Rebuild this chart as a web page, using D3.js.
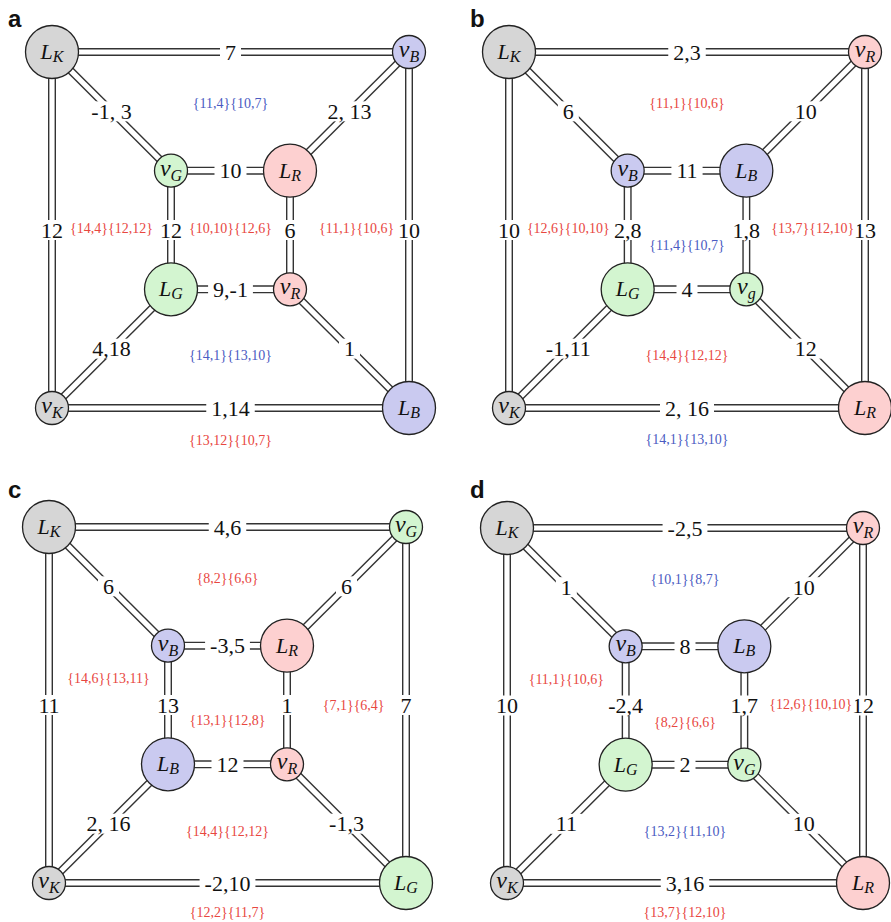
<!DOCTYPE html>
<html>
<head>
<meta charset="utf-8">
<script src="https://cdn.jsdelivr.net/npm/d3@7"></script>
<style>
  body { margin: 0; background: #fff; }
  svg { display: block; }
</style>
</head>
<body>
<svg id="chart" width="891" height="922"></svg>
<script>
// Panel letters
const panelNames = ["a", "b", "c", "d"];

// Vertex names, in order: outer TL, outer TR, inner TL, inner TR,
// inner BL, inner BR, outer BL, outer BR
const nodesA = ["L_K", "v_B", "v_G", "L_R", "L_G", "v_R", "v_K", "L_B"];
const nodesB = ["L_K", "v_R", "v_B", "L_B", "L_G", "v_g", "v_K", "L_R"];
const nodesC = ["L_K", "v_G", "v_B", "L_R", "L_B", "v_R", "v_K", "L_G"];
const nodesD = ["L_K", "v_R", "v_B", "L_B", "L_G", "v_G", "v_K", "L_R"];

// Edge weights, in order: top, TL spoke, TR spoke, inner top, left, right,
// inner left, inner right, inner bottom, BL spoke, BR spoke, bottom
const edgesA = ["7", "-1, 3", "2, 13", "10", "12", "10", "12", "6", "9,-1", "4,18", "1", "1,14"];
const edgesB = ["2,3", "6", "10", "11", "10", "13", "2,8", "1,8", "4", "-1,11", "12", "2, 16"];
const edgesC = ["4,6", "6", "6", "-3,5", "11", "7", "13", "1", "12", "2, 16", "-1,3", "-2,10"];
const edgesD = ["-2,5", "1", "10", "8", "10", "12", "-2,4", "1,7", "2", "11", "10", "3,16"];

// Face annotations: top, left, centre, right, bottom, outer
const facesA = ["{11,4}{10,7}", "{14,4}{12,12}", "{10,10}{12,6}", "{11,1}{10,6}", "{14,1}{13,10}", "{13,12}{10,7}"];
const facesB = ["{11,1}{10,6}", "{12,6}{10,10}", "{11,4}{10,7}", "{13,7}{12,10}", "{14,4}{12,12}", "{14,1}{13,10}"];
const facesC = ["{8,2}{6,6}", "{14,6}{13,11}", "{13,1}{12,8}", "{7,1}{6,4}", "{14,4}{12,12}", "{12,2}{11,7}"];
const facesD = ["{10,1}{8,7}", "{11,1}{10,6}", "{8,2}{6,6}", "{12,6}{10,10}", "{13,2}{11,10}", "{13,7}{12,10}"];

// Face annotation colour class (B = blue, R = red)
const faceClassA = ["B", "R", "R", "R", "B", "R"];
const faceClassB = ["R", "R", "B", "R", "R", "B"];
const faceClassC = ["R", "R", "R", "R", "R", "R"];
const faceClassD = ["B", "R", "R", "R", "B", "R"];

const panelData = [
  { nodes: nodesA, edges: edgesA, faces: facesA, faceClass: faceClassA },
  { nodes: nodesB, edges: edgesB, faces: facesB, faceClass: faceClassB },
  { nodes: nodesC, edges: edgesC, faces: facesC, faceClass: faceClassC },
  { nodes: nodesD, edges: edgesD, faces: facesD, faceClass: faceClassD }
];

// ---- layout ----
// cube graph drawn on a 3x3 grid
const gridPos = [[0, 0], [3, 0], [1, 1], [2, 1], [1, 2], [2, 2], [0, 3], [3, 3]];
const edgePairs = [[0, 1], [0, 2], [1, 3], [2, 3], [0, 6], [1, 7], [2, 4], [3, 5], [4, 5], [6, 4], [5, 7], [6, 7]];
const panelBoxes = [
  { x0: 52, x1: 409, y0: 52, y1: 408, lx: 8, ly: 27 },
  { x0: 509, x1: 865, y0: 52, y1: 408, lx: 470, ly: 27 },
  { x0: 49, x1: 406, y0: 527, y1: 883, lx: 8, ly: 498 },
  { x0: 507, x1: 863, y0: 528, y1: 883, lx: 470, ly: 498 }
];
// face annotation anchors in grid units, per panel
const faceAnchors = [
  [[1.5, 0.43], [0.5, 1.48], [1.5, 1.48], [2.56, 1.48], [1.5, 2.55], [1.5, 3.27]],
  [[1.5, 0.43], [0.5, 1.48], [1.5, 1.63], [2.56, 1.48], [1.5, 2.55], [1.5, 3.26]],
  [[1.5, 0.43], [0.5, 1.27], [1.5, 1.63], [2.56, 1.50], [1.5, 2.56], [1.5, 3.245]],
  [[1.5, 0.43], [0.5, 1.28], [1.5, 1.64], [2.56, 1.49], [1.5, 2.56], [1.5, 3.245]]
];

const nodeFill = { K: "#d6d6d6", B: "#cacaf0", G: "#d3f5d0", g: "#d3f5d0", R: "#fdd0d0" };
const faceColor = { R: "#e8473f", B: "#4b5bc2" };
const serif = "'Liberation Serif', 'Times New Roman', serif";

const svg = d3.select("#chart");

panelData.forEach((pd, i) => {
  const box = panelBoxes[i];
  const x = d3.scaleLinear().domain([0, 3]).range([box.x0, box.x1]);
  const y = d3.scaleLinear().domain([0, 3]).range([box.y0, box.y1]);
  const g = svg.append("g").attr("class", "panel-" + panelNames[i]);

  const pts = gridPos.map(([u, v]) => [x(u), y(v)]);
  const edges = edgePairs.map(([s, t], k) => ({ s: pts[s], t: pts[t], label: pd.edges[k] }));

  // double-stroke edges: dark casing with white core
  g.append("g").selectAll("line").data(edges).join("line")
    .attr("x1", d => d.s[0]).attr("y1", d => d.s[1])
    .attr("x2", d => d.t[0]).attr("y2", d => d.t[1])
    .attr("stroke", "#333").attr("stroke-width", 8);
  g.append("g").selectAll("line").data(edges).join("line")
    .attr("x1", d => d.s[0]).attr("y1", d => d.s[1])
    .attr("x2", d => d.t[0]).attr("y2", d => d.t[1])
    .attr("stroke", "#fff").attr("stroke-width", 5.2);

  // vertices
  const nodes = pd.nodes.map((name, k) => {
    const [base, sub] = name.split("_");
    return { base, sub, x: pts[k][0], y: pts[k][1], big: base === "L" };
  });
  const ng = g.append("g").selectAll("g").data(nodes).join("g")
    .attr("transform", d => `translate(${d.x},${d.y})`);
  ng.append("circle")
    .attr("r", d => d.big ? 26.5 : 16.5)
    .attr("fill", d => nodeFill[d.sub])
    .attr("stroke", "#222").attr("stroke-width", 1.3);
  const nt = ng.append("text")
    .attr("text-anchor", "middle")
    .attr("y", d => d.big ? 7 : 5)
    .attr("font-family", serif).attr("font-style", "italic")
    .attr("font-size", d => d.big ? 22 : 24).attr("fill", "#111");
  nt.append("tspan").text(d => d.base);
  nt.append("tspan").attr("font-size", 16).attr("dy", d => d.big ? 3 : 5).text(d => d.sub);

  // edge weight labels on white patches
  const el = g.append("g").selectAll("g").data(edges).join("g")
    .attr("transform", d => `translate(${(d.s[0] + d.t[0]) / 2},${(d.s[1] + d.t[1]) / 2})`);
  const et = el.append("text")
    .attr("text-anchor", "middle").attr("y", 7.5)
    .attr("font-family", serif).attr("font-size", 22).attr("fill", "#111")
    .text(d => d.label);
  et.each(function () {
    const b = this.getBBox();
    d3.select(this.parentNode).insert("rect", "text")
      .attr("x", b.x - 5).attr("y", -10).attr("width", b.width + 10).attr("height", 20)
      .attr("fill", "#fff");
  });

  // face annotations
  const faces = pd.faces.map((t, k) => ({
    text: t, cls: pd.faceClass[k],
    x: x(faceAnchors[i][k][0]), y: y(faceAnchors[i][k][1])
  }));
  const fl = g.append("g").selectAll("g").data(faces).join("g")
    .attr("transform", d => `translate(${d.x},${d.y})`);
  const ft = fl.append("text")
    .attr("text-anchor", "middle").attr("y", 5)
    .attr("font-family", serif).attr("font-size", 14)
    .attr("fill", d => faceColor[d.cls])
    .text(d => d.text);
  ft.each(function () {
    const b = this.getBBox();
    d3.select(this.parentNode).insert("rect", "text")
      .attr("x", b.x - 3).attr("y", -8).attr("width", b.width + 6).attr("height", 16)
      .attr("fill", "#fff");
  });

  // panel letter
  svg.append("text")
    .attr("x", box.lx).attr("y", box.ly)
    .attr("font-family", "'Liberation Sans', Arial, sans-serif")
    .attr("font-weight", "bold").attr("font-size", 24).attr("fill", "#111")
    .text(panelNames[i]);
});
</script>
</body>
</html>
